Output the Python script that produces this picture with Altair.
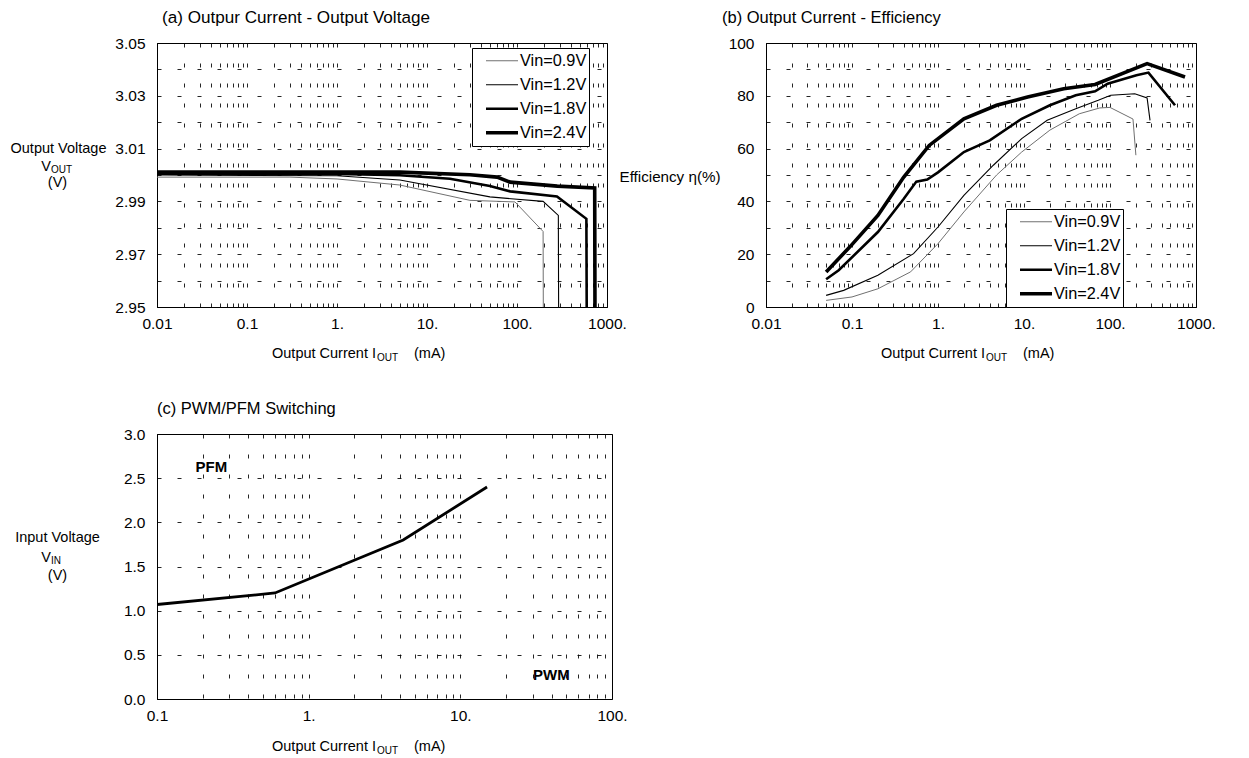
import altair as alt
import pandas as pd

FONT = "Liberation Sans"

# ---------------- data ----------------
series = ["Vin=0.9V", "Vin=1.2V", "Vin=1.8V", "Vin=2.4V"]
series_colors = ["#707070", "#000000", "#000000", "#000000"]
series_widths = [1.0, 1.1, 2.6, 3.6]

# (a) Output current (mA) - output voltage (V)
a_i_09 = [0.01, 0.3, 1.0, 5.0, 30, 95, 195, 196]
a_v_09 = [2.9992, 2.9992, 2.9985, 2.9962, 2.9904, 2.9898, 2.9786, 2.95]
a_i_12 = [0.01, 1.0, 5.0, 50, 195, 288, 290]
a_v_12 = [3.0000, 2.9997, 2.9981, 2.9917, 2.9900, 2.9847, 2.95]
a_i_18 = [0.01, 1.0, 5.0, 18, 50, 84, 278, 590, 595]
a_v_18 = [3.0005, 3.0004, 2.9999, 2.9986, 2.9958, 2.9938, 2.9919, 2.9834, 2.95]
a_i_24 = [0.01, 5.0, 30, 60, 84, 280, 730, 735]
a_v_24 = [3.0011, 3.0011, 3.0001, 2.9992, 2.9973, 2.9958, 2.9951, 2.95]

# (b) Output current (mA) - efficiency (%)
b_i_09 = [0.05, 0.1, 0.2, 0.48, 1.0, 2.0, 4.8, 9.4, 20, 44, 76, 100, 185, 200]
b_e_09 = [2.5, 3.8, 6.9, 13.3, 24, 36, 50, 58.7, 67, 73.2, 75.4, 75.6, 71.2, 57.5]
b_i_12 = [0.05, 0.08, 0.2, 0.52, 1.0, 2.0, 4.4, 9.4, 18.6, 40, 73, 102, 194, 270, 292]
b_e_12 = [4.4, 6.3, 12, 20.2, 30.3, 42.3, 53.7, 63.8, 70.7, 75.1, 78.3, 80.2, 80.8, 79.2, 70.7]
b_i_18 = [0.05, 0.07, 0.2, 0.4, 0.56, 0.75, 1.0, 2.0, 4.0, 9.4, 20, 40, 67, 94, 203, 280, 570]
b_e_18 = [10.5, 13.9, 28.4, 41, 47.5, 48.3, 51, 58.7, 63.1, 71.3, 76.4, 80.2, 81.7, 84.6, 87.8, 88.8, 76.4]
b_i_24 = [0.05, 0.094, 0.2, 0.4, 0.79, 2.0, 4.8, 11, 29, 67, 270, 745]
b_e_24 = [13.3, 22.7, 34.7, 49.2, 61.2, 71.3, 76.4, 79.5, 82.7, 84.3, 92.2, 87.1]

# (c) PWM/PFM switching boundary
c_i = [0.1, 0.6, 4.2, 15]
c_v = [1.07, 1.2, 1.8, 2.4]
region_text = ["PFM", "PWM"]
region_i = [0.228, 39.8]
region_v = [2.63, 0.27]

# axis ticks / labels
ab_x_ticks = [0.01, 0.1, 1, 10, 100, 1000]
ab_x_labels = ["0.01", "0.1", "1.", "10.", "100.", "1000."]
c_x_ticks = [0.1, 1, 10, 100]
c_x_labels = ["0.1", "1.", "10.", "100."]
a_y_grid = [2.95, 2.96, 2.97, 2.98, 2.99, 3.0, 3.01, 3.02, 3.03, 3.04, 3.05]
a_y_ticks = [2.95, 2.97, 2.99, 3.01, 3.03, 3.05]
a_y_labels = ["2.95", "2.97", "2.99", "3.01", "3.03", "3.05"]
b_y_grid = [0, 10, 20, 30, 40, 50, 60, 70, 80, 90, 100]
b_y_ticks = [0, 20, 40, 60, 80, 100]
b_y_labels = ["0", "20", "40", "60", "80", "100"]
c_y_grid = [0, 0.25, 0.5, 0.75, 1.0, 1.25, 1.5, 1.75, 2.0, 2.25, 2.5, 2.75, 3.0]
c_y_ticks = [0, 0.5, 1.0, 1.5, 2.0, 2.5, 3.0]
c_y_labels = ["0.0", "0.5", "1.0", "1.5", "2.0", "2.5", "3.0"]


def long_df(pairs):
    rows = []
    for name, xs, ys in pairs:
        for k, (x, y) in enumerate(zip(xs, ys)):
            rows.append({"series": name, "I": x, "Y": y, "k": k})
    return pd.DataFrame(rows)


df_a = long_df([(series[0], a_i_09, a_v_09), (series[1], a_i_12, a_v_12),
                (series[2], a_i_18, a_v_18), (series[3], a_i_24, a_v_24)])
df_b = long_df([(series[0], b_i_09, b_e_09), (series[1], b_i_12, b_e_12),
                (series[2], b_i_18, b_e_18), (series[3], b_i_24, b_e_24)])
df_c = pd.DataFrame({"I": c_i, "Y": c_v, "k": list(range(len(c_i)))})
df_reg = pd.DataFrame({"t": region_text, "I": region_i, "Y": region_v})


def minor_grid(decades):
    vals = []
    for d in decades[:-1]:
        vals.append(d)
        for m in range(2, 10):
            vals.append(m * d)
    vals.append(decades[-1])
    return vals


def label_expr(ticks, labels):
    parts = [f"datum.value == {v} ? '{l}'" for v, l in zip(ticks, labels)]
    return " : ".join(parts) + " : ''"


def x_axis(ticks, labels):
    return alt.Axis(values=minor_grid(ticks), labelExpr=label_expr(ticks, labels),
                    title=None, grid=True, ticks=False, labelOverlap=False,
                    labelFlush=False, labelPadding=9)


def y_axis(grid, ticks, labels):
    return alt.Axis(values=grid, labelExpr=label_expr(ticks, labels), title=None,
                    grid=True, ticks=False, labelOverlap=False, labelFlush=False,
                    labelPadding=12)


def txt(s, x, y, size=14.5, align="center", baseline="middle", weight="normal"):
    return alt.Chart(alt.Data(values=[{}])).mark_text(
        text=s, align=align, baseline=baseline, fontSize=size, font=FONT,
        fontWeight=weight, color="black"
    ).encode(x=alt.value(x), y=alt.value(y))


def x_title(y):
    return [
        txt("Output Current I", 219, y, align="right"),
        txt("OUT", 220, y + 4, size=10, align="left"),
        txt("(mA)", 257, y, align="left"),
    ]


def legend(lx, ly):
    return alt.Legend(title=None, orient="none", legendX=lx, legendY=ly,
                      symbolType="stroke", symbolSize=1024, labelFont=FONT,
                      labelFontSize=16.3, labelColor="black", strokeColor="black",
                      fillColor="white", padding=2, clipHeight=21.5,
                      symbolOffset=10, labelOffset=0, rowPadding=2)


def series_lines(df, xdom, ydom, yaxis, lx, ly):
    leg = legend(lx, ly)
    return alt.Chart(df).mark_line(clip=True).encode(
        x=alt.X("I:Q", scale=alt.Scale(type="log", domain=xdom, nice=False),
                axis=x_axis(ab_x_ticks, ab_x_labels)),
        y=alt.Y("Y:Q", scale=alt.Scale(domain=ydom, nice=False, zero=False), axis=yaxis),
        color=alt.Color("series:N", scale=alt.Scale(domain=series, range=series_colors),
                        legend=leg),
        strokeWidth=alt.StrokeWidth("series:N",
                                    scale=alt.Scale(type="ordinal", domain=series,
                                                    range=series_widths),
                                    legend=leg),
        order="k:Q",
    )


# ---------------- panel (a) ----------------
lines_a = series_lines(df_a, [0.01, 1000], [2.95, 3.05],
                       y_axis(a_y_grid, a_y_ticks, a_y_labels), 315, 5)
panel_a = alt.layer(
    lines_a,
    txt("(a) Outpur Current - Output Voltage", 5, -25, size=17.1, align="left"),
    txt("Output Voltage", -98.5, 106),
    txt("V", -106, 128, align="right", baseline="alphabetic"),
    txt("OUT", -106, 130, size=10, align="left", baseline="alphabetic"),
    txt("(V)", -99.5, 140),
    *x_title(311),
).properties(width=450, height=264)

# ---------------- panel (b) ----------------
lines_b = series_lines(df_b, [0.01, 1000], [0, 100],
                       y_axis(b_y_grid, b_y_ticks, b_y_labels), 240, 166)
panel_b = alt.layer(
    lines_b,
    txt("(b) Output Current - Efficiency", -44, -25, size=16.5, align="left"),
    txt("Efficiency η(%)", -96, 134, size=15.2),
    *x_title(311),
).properties(width=430, height=264)

# ---------------- panel (c) ----------------
line_c = alt.Chart(df_c).mark_line(color="black", strokeWidth=2.8, clip=True).encode(
    x=alt.X("I:Q", scale=alt.Scale(type="log", domain=[0.1, 100], nice=False),
            axis=x_axis(c_x_ticks, c_x_labels)),
    y=alt.Y("Y:Q", scale=alt.Scale(domain=[0, 3], nice=False, zero=False),
            axis=y_axis(c_y_grid, c_y_ticks, c_y_labels)),
    order="k:Q",
)
regions_c = alt.Chart(df_reg).mark_text(fontSize=15, fontWeight="bold", font=FONT,
                                        color="black").encode(
    x=alt.X("I:Q"), y=alt.Y("Y:Q"), text="t:N")
panel_c = alt.layer(
    line_c, regions_c,
    txt("(c) PWM/PFM Switching", 0, -25, size=16.5, align="left"),
    txt("Input Voltage", -99.5, 104),
    txt("V", -106, 128, align="right", baseline="alphabetic"),
    txt("IN", -106, 130, size=10, align="left", baseline="alphabetic"),
    txt("(V)", -99.5, 142),
    *x_title(313),
).properties(width=455, height=265)

chart = alt.concat(
    panel_a, panel_b, panel_c, columns=2,
    spacing={"row": 127, "column": 154}, bounds="flush",
).resolve_scale(
    color="independent", strokeWidth="independent"
).resolve_legend(
    color="independent", strokeWidth="independent"
).properties(
    padding={"left": 2, "top": 0, "right": 0, "bottom": 0}
).configure(font=FONT).configure_view(
    stroke="black", strokeWidth=1
).configure_axis(
    labelFont=FONT, labelFontSize=15.5, labelColor="black",
    domainColor="black", domainWidth=1,
    gridColor="black", gridDash=[4, 16], gridWidth=1, gridOpacity=0.85,
)

chart.save("out.html", embed_options={"renderer": "svg", "actions": False})
